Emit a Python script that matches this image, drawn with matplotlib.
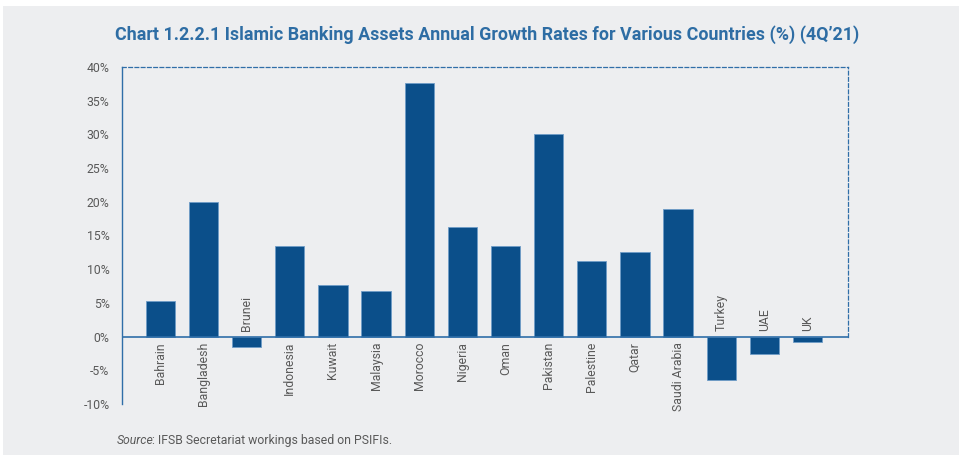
import matplotlib.pyplot as plt
from matplotlib.patches import Rectangle
from matplotlib.ticker import FuncFormatter

countries = ["Bahrain", "Bangladesh", "Brunei", "Indonesia", "Kuwait", "Malaysia",
             "Morocco", "Nigeria", "Oman", "Pakistan", "Palestine", "Qatar",
             "Saudi Arabia", "Turkey", "UAE", "UK"]
growth = [5.3, 19.9, -1.5, 13.4, 7.7, 6.7, 37.7, 16.3, 13.4, 30.0, 11.2, 12.5,
          18.9, -6.4, -2.6, -0.8]
y_ticks = [-10, -5, 0, 5, 10, 15, 20, 25, 30, 35, 40]

BAR = "#0b4f8a"
LINE = "#2f6ea8"
TXT = "#595959"

plt.rcParams["font.family"] = ["Roboto", "DejaVu Sans"]

fig = plt.figure(figsize=(9.62, 4.61), dpi=100)
fig.patch.set_facecolor("white")
fig.add_artist(Rectangle((3 / 962, 6 / 461), 956 / 962, 449 / 461, transform=fig.transFigure,
                         facecolor="#edeef0", edgecolor="none", zorder=0))

ax = fig.add_axes([122 / 962, 1 - 404 / 461, 726 / 962, 337 / 461])
ax.set_facecolor("none")

x = range(len(countries))
ax.bar(x, growth, width=0.68, color=BAR, edgecolor="#6f9cc7", linewidth=0.6, zorder=3)

# country names sit on the opposite side of the zero line from the bar
for i, (name, v) in enumerate(zip(countries, growth)):
    if v >= 0:
        ax.text(i, -0.8, name, rotation=90, ha="center", va="top", fontsize=8.8, color=TXT)
    else:
        ax.text(i, 0.8, name, rotation=90, ha="center", va="bottom", fontsize=8.8, color=TXT)

ax.set_xlim(-0.89, 15.94)
ax.set_ylim(-10, 40)
ax.set_yticks(y_ticks)
ax.yaxis.set_major_formatter(FuncFormatter(lambda v, _: f"{v:.0f}%"))
ax.tick_params(axis="y", length=0, pad=9, labelsize=8.8, labelcolor=TXT)
ax.set_xticks([])

ax.spines["left"].set_color(LINE)
ax.spines["left"].set_linewidth(1.0)
ax.spines["bottom"].set_visible(False)
for side in ("top", "right"):
    ax.spines[side].set_color(LINE)
    ax.spines[side].set_linestyle((0, (3, 2)))
    ax.spines[side].set_linewidth(0.9)
ax.spines["right"].set_bounds(0, 40)
ax.axhline(0, color=LINE, linewidth=1.2, zorder=4)

fig.text(487 / 962, 1 - 35 / 461,
         "Chart 1.2.2.1 Islamic Banking Assets Annual Growth Rates for Various Countries (%) (4Q\u201921)",
         ha="center", va="center", fontsize=12.9, fontweight="bold", color="#2e6da4")
src = fig.text(117 / 962, 1 - 440 / 461, "Source", style="italic", fontsize=8.8, color=TXT,
               ha="left", va="center")
ax.annotate(": IFSB Secretariat workings based on PSIFIs.", xy=(1, 0.5), xycoords=src,
            xytext=(-1.5, 0), textcoords="offset points",
            ha="left", va="center", fontsize=8.8, color=TXT, annotation_clip=False)

fig.savefig("out.png", dpi=100, facecolor=fig.get_facecolor())
